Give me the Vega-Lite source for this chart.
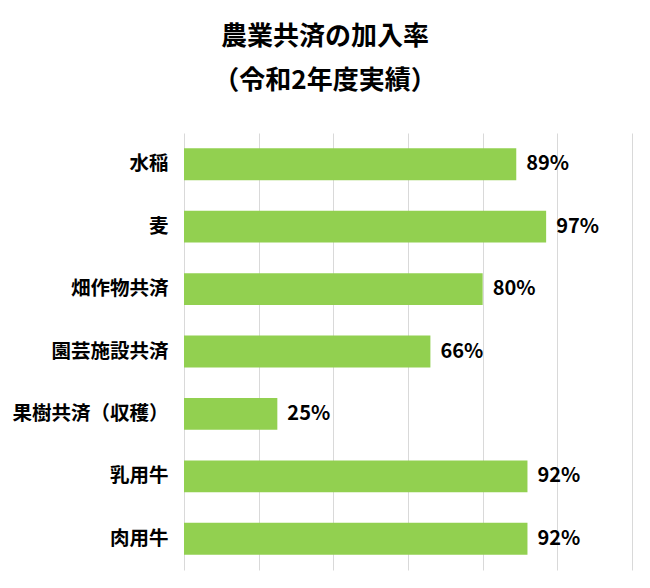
{
  "$schema": "https://vega.github.io/schema/vega-lite/v6.json",
  "width": 448,
  "height": 437,
  "autosize": {"type": "none"},
  "padding": {"left": 184, "top": 133, "right": 18, "bottom": 18},
  "background": "white",
  "title": {
    "text": ["農業共済の加入率", "（令和2年度実績）"],
    "font": "Noto Sans CJK JP",
    "fontSize": 26,
    "fontWeight": "bold",
    "color": "#000000",
    "lineHeight": 44,
    "anchor": "middle",
    "frame": "group",
    "dx": -83,
    "offset": 39
  },
  "data": {
    "values": [
      {"crop": "水稲", "rate": 0.89},
      {"crop": "麦", "rate": 0.97},
      {"crop": "畑作物共済", "rate": 0.80},
      {"crop": "園芸施設共済", "rate": 0.66},
      {"crop": "果樹共済（収穫）", "rate": 0.25},
      {"crop": "乳用牛", "rate": 0.92},
      {"crop": "肉用牛", "rate": 0.92}
    ]
  },
  "encoding": {
    "y": {
      "field": "crop",
      "type": "nominal",
      "sort": null,
      "scale": {"paddingInner": 0.49, "paddingOuter": 0.245},
      "axis": {
        "title": null,
        "ticks": false,
        "domain": false,
        "labelPadding": 16,
        "labelFont": "Noto Sans CJK JP",
        "labelFontSize": 19.5,
        "labelFontWeight": "bold",
        "labelColor": "#000000"
      }
    },
    "x": {
      "field": "rate",
      "type": "quantitative",
      "scale": {"domain": [0, 1.2], "nice": false},
      "axis": {
        "title": null,
        "labels": false,
        "ticks": false,
        "domain": false,
        "values": [0, 0.2, 0.4, 0.6, 0.8, 1.0, 1.2],
        "gridColor": "#d9d9d9",
        "gridWidth": 1
      }
    }
  },
  "layer": [
    {"mark": {"type": "bar", "color": "#92d050"}},
    {
      "mark": {
        "type": "text",
        "align": "left",
        "dx": 10,
        "font": "Noto Sans CJK JP",
        "fontSize": 20,
        "fontWeight": "bold",
        "color": "#000000"
      },
      "encoding": {"text": {"field": "rate", "format": ".0%"}}
    }
  ],
  "config": {"view": {"stroke": null}}
}
